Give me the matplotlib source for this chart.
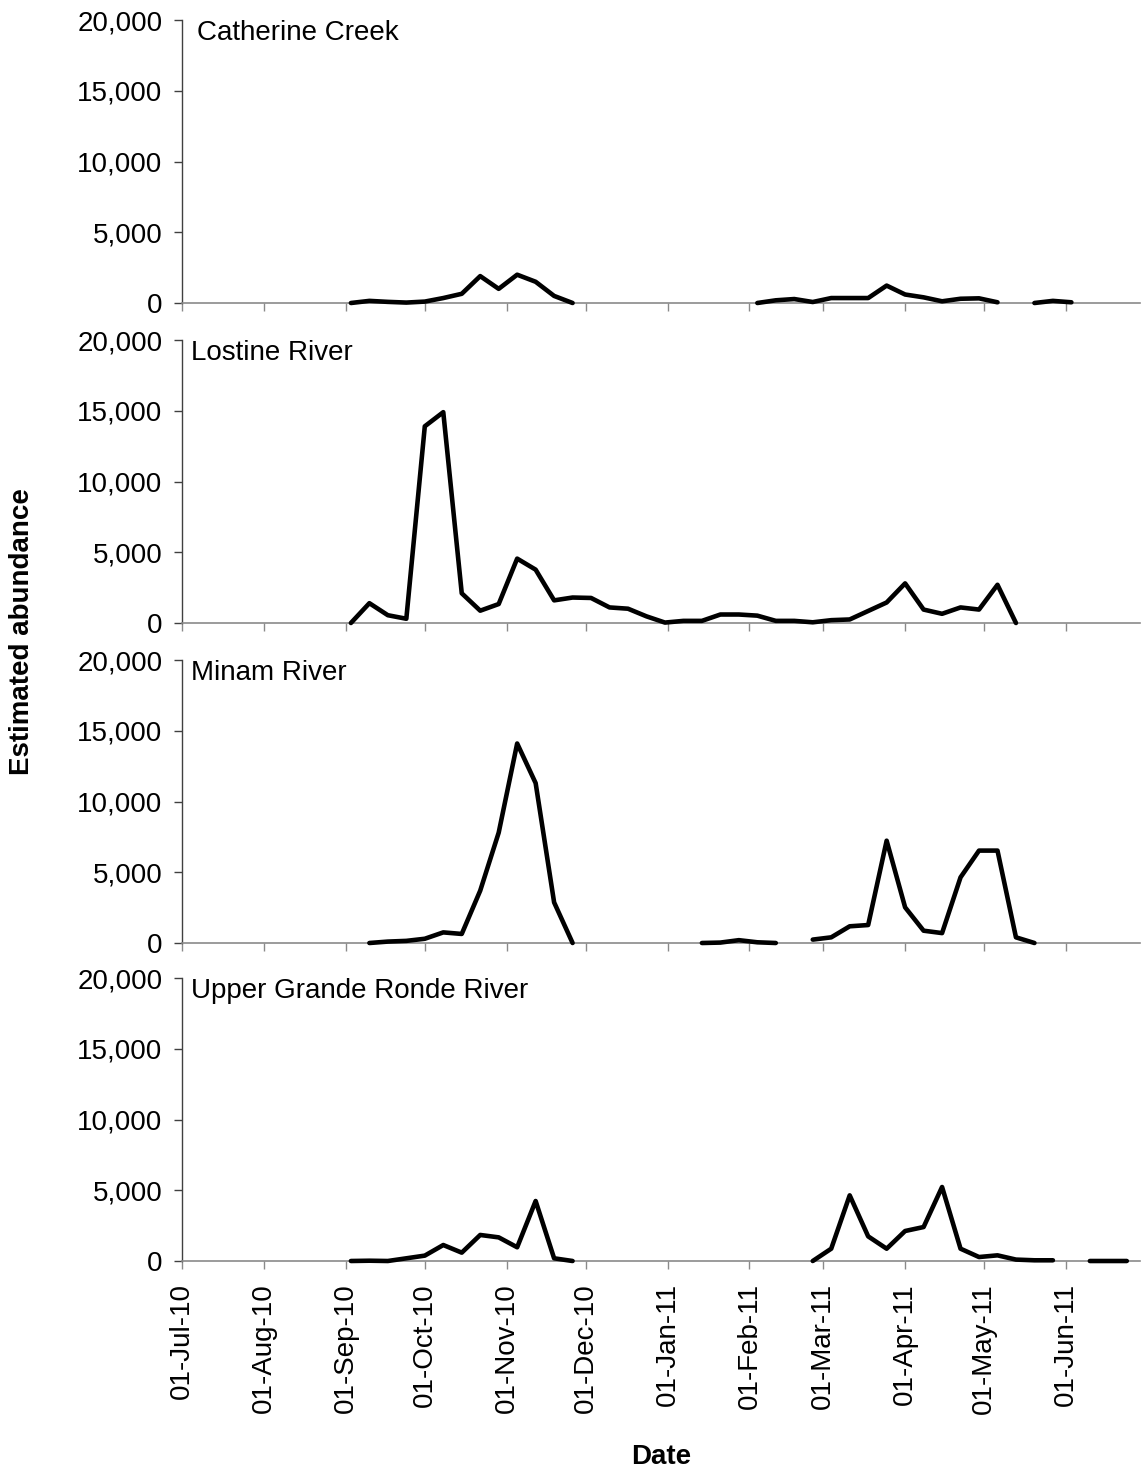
import matplotlib.pyplot as plt
import matplotlib.dates as mdates
import matplotlib.ticker as mticker
import numpy as np
import pandas as pd

plt.rcParams['font.family'] = ['Liberation Sans', 'DejaVu Sans']

# weekly sampling dates (gaps = no trapping)
weeks = pd.date_range('2010-09-03', periods=43, freq='7D')

rivers = ["Catherine Creek", "Lostine River", "Minam River", "Upper Grande Ronde River"]

catherine = ([0, 150, 80, 30, 100, 350, 650, 1900, 1000, 2000, 1500, 500, 0]
             + [None] * 9
             + [0, 190, 280, 70, 350, 350, 350, 1230, 600, 400, 120, 300, 330, 50]
             + [None]
             + [0, 150, 50]
             + [None] * 3)

lostine = ([0, 1400, 550, 300, 13900, 14900, 2100, 870, 1340, 4550, 3770, 1600,
            1800, 1770, 1100, 1010, 470, 30, 150, 150, 600, 600, 520, 150, 150,
            50, 200, 250, 850, 1450, 2800, 950, 650, 1100, 950, 2700, 0]
           + [None] * 6)

minam = ([None]
         + [0, 100, 150, 300, 750, 640, 3700, 7800, 14100, 11300, 2870, 0]
         + [None] * 6
         + [0, 30, 200, 50, 0]
         + [None]
         + [240, 400, 1180, 1270, 7230, 2520, 870, 700, 4640, 6530, 6530, 400, 0]
         + [None] * 5)

upper_grande_ronde = ([0, 20, 0, 190, 380, 1130, 590, 1840, 1670, 970, 4240, 190, 0]
                      + [None] * 12
                      + [0, 870, 4640, 1740, 870, 2120, 2400, 5230, 870, 280, 400, 100, 50, 50]
                      + [None]
                      + [0, 0, 0])

series = [catherine, lostine, minam, upper_grande_ronde]

W, H = 1143, 1473
fig = plt.figure(figsize=(W / 100, H / 100), dpi=100)

tops = [20, 340, 660, 978]
ph = 283
left, pw = 182, 958
title_x = [0.016, 0.009, 0.009, 0.009]

for i, (name, vals) in enumerate(zip(rivers, series)):
    ax = fig.add_axes([left / W, 1 - (tops[i] + ph) / H, pw / W, ph / H])
    y = np.array([np.nan if v is None else v for v in vals], dtype=float)
    ax.plot(weeks, y, color='black', lw=3.3, solid_capstyle='round',
            solid_joinstyle='round', clip_on=False, zorder=3)

    ax.set_ylim(0, 20000)
    ax.set_yticks(np.arange(0, 20001, 5000))
    ax.yaxis.set_major_formatter(mticker.StrMethodFormatter('{x:,.0f}'))
    ax.set_xlim(pd.Timestamp('2010-07-01'), pd.Timestamp('2011-06-29'))
    ax.xaxis.set_major_locator(mdates.MonthLocator(bymonthday=1))
    ax.xaxis.set_major_formatter(mdates.DateFormatter('%d-%b-%y'))

    for s in ('top', 'right'):
        ax.spines[s].set_visible(False)
    ax.spines['left'].set_color('#404040')
    ax.spines['bottom'].set_color('#8a8a8a')
    ax.spines['left'].set_linewidth(1.0)
    ax.spines['bottom'].set_linewidth(1.2)

    ax.tick_params(axis='y', direction='out', length=6, width=1, color='#404040',
                   labelsize=20, pad=8)
    ax.tick_params(axis='x', direction='out', length=6, width=1, color='#8a8a8a',
                   labelsize=20, pad=10, labelrotation=90)
    if i < 3:
        ax.tick_params(axis='x', labelbottom=False)

    ax.text(title_x[i], 0.955, name, transform=ax.transAxes, fontsize=20,
            va='center', ha='left')

fig.text(22 / W, 1 - 632 / H, 'Estimated abundance', rotation=90, fontsize=20,
         fontweight='bold', ha='center', va='center')
fig.text(661 / W, 1 - 1457 / H, 'Date', fontsize=20, fontweight='bold',
         ha='center', va='center')

fig.savefig('out.png', dpi=100, facecolor='white')
